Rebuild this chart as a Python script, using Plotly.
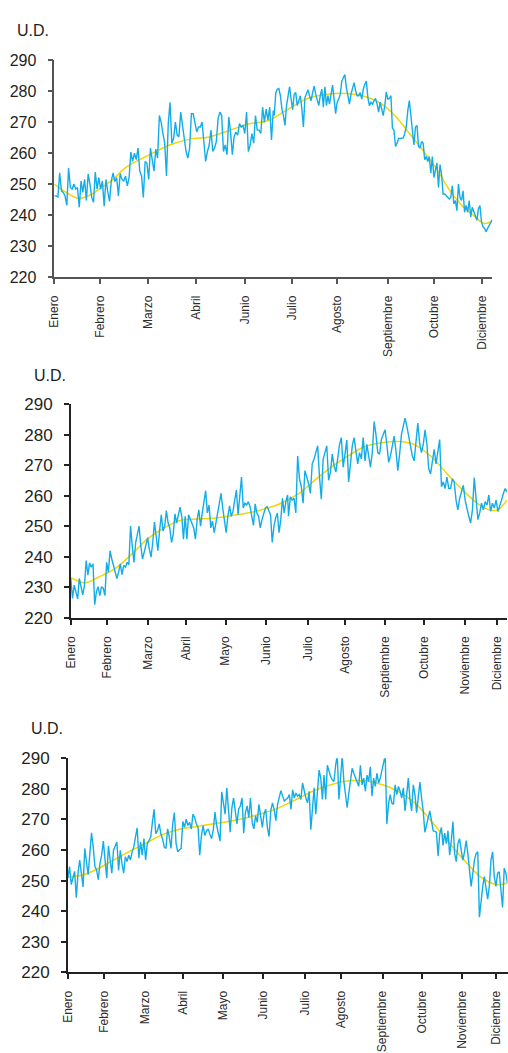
import numpy as np
import plotly.graph_objects as go

# ---------------------------------------------------------------- data
# Panel 1: daily index readings (first half / second half of the year)
p1_h1 = [246.2, 246.2, 245.9, 253.6, 247.8, 247.3, 246.2, 243.1, 255.2, 248.9,
         248.4, 250.0, 248.4, 248.9, 242.5, 251.0, 247.3, 251.5, 244.7, 253.3,
         250.0, 245.7, 244.1, 253.9, 248.4, 252.1, 248.4, 251.0, 242.9, 251.5,
         247.6, 244.4, 251.0, 253.6, 250.8, 252.1, 246.2, 253.4, 251.5, 251.0,
         252.6, 249.4, 252.1, 260.3, 257.3, 260.0, 257.9, 261.6, 254.2, 252.6,
         245.7, 257.3, 256.8, 251.5, 261.6, 257.3, 254.2, 261.3, 258.4, 272.1,
         270.0, 266.3, 263.2, 252.6, 269.5, 276.4, 263.2, 264.7, 270.0, 265.8,
         265.3, 273.2, 267.9, 264.7, 260.5, 258.4, 261.6, 272.7, 272.7, 270.0,
         266.8, 268.4, 268.4, 270.0, 262.1, 257.3, 260.5, 262.6, 267.4, 260.5,
         261.6, 263.7, 271.1, 273.2, 272.1, 260.5, 262.6, 259.5, 271.6, 266.8,
         259.5, 265.3, 266.8, 265.8, 269.5, 268.4, 268.9, 266.3, 273.2, 260.5,
         262.6, 266.3, 263.2, 272.1, 267.4, 267.4, 266.3, 274.8, 270.0, 274.2,
         270.6, 274.8, 264.2, 273.7]
p1_h2 = [272.1, 279.5, 280.6, 280.8, 278.5, 274.2, 272.1, 268.9, 275.3, 278.5,
         281.4, 277.4, 274.0, 279.0, 279.5, 275.3, 277.2, 278.5, 274.2, 268.4,
         277.9, 279.0, 280.4, 278.5, 276.9, 279.5, 281.6, 279.0, 277.4, 275.3,
         278.5, 280.6, 274.8, 281.4, 275.3, 278.5, 275.8, 278.5, 281.9, 277.4,
         272.7, 276.4, 277.4, 279.0, 283.2, 284.3, 285.3, 281.1, 278.5, 275.8,
         279.0, 281.1, 282.7, 280.1, 278.5, 278.5, 279.5, 277.4, 280.6, 282.2,
         283.2, 277.9, 275.3, 276.4, 275.8, 276.9, 277.6, 275.8, 273.2, 276.4,
         274.2, 272.1, 275.3, 279.7, 277.4, 277.6, 278.5, 267.9, 267.4, 262.1,
         263.2, 264.7, 264.7, 264.7, 264.9, 266.3, 268.4, 273.7, 276.9, 272.1,
         266.8, 262.6, 268.4, 268.9, 262.1, 261.6, 263.7, 263.2, 257.9, 258.9,
         257.3, 258.9, 253.6, 258.9, 252.1, 254.2, 256.8, 248.9, 256.3, 253.1,
         246.8, 246.8, 246.2, 245.7, 245.2, 245.7, 249.4, 243.6, 244.7, 241.4,
         250.0, 245.7, 244.7, 247.8, 240.9, 243.1, 240.9, 244.7, 239.4, 242.5,
         240.9, 239.9, 238.3, 242.0, 243.1, 237.8, 236.2, 235.7, 234.6, 235.7,
         236.7, 237.8, 238.5]
p1_trend_days = [0, 10, 20, 30, 39, 49, 59, 80, 96, 113, 129, 146, 162, 178, 195,
                 211, 228, 244, 261, 273, 285, 296, 307, 318, 329, 340, 351, 358, 365]
p1_trend = [250.0, 247.3, 245.4, 246.5, 248.8, 251.5, 255.2, 259.6, 262.6, 264.5,
            265.2, 267.3, 269.4, 270.4, 274.2, 277.6, 279.0, 279.2, 278.0, 275.8,
            271.6, 266.3, 261.0, 255.2, 248.3, 243.0, 239.4, 237.3, 238.0]
p1_months = ["Enero", "Febrero", "Marzo", "Abril", "Junio", "Julio", "Agosto",
             "Septiembre", "Octubre", "Diciembre"]
p1_month_days = [0, 37.8, 78.1, 118.4, 158.7, 198.1, 235.9, 277.9, 316.5, 356.8]

# Panel 2
p2_h1 = [232.9, 226.4, 230.7, 228.6, 226.2, 232.9, 229.7, 227.5, 230.7, 238.8,
         234.0, 238.0, 236.6, 237.7, 224.3, 228.6, 230.2, 227.3, 230.2, 229.7,
         227.3, 238.2, 235.0, 242.0, 239.3, 237.2, 235.0, 232.9, 235.0, 237.7,
         234.2, 237.2, 236.6, 238.2, 237.4, 250.1, 243.6, 238.2, 244.7, 247.9,
         250.1, 243.6, 239.3, 241.5, 243.6, 246.3, 242.5, 239.9, 244.7, 251.4,
         246.8, 242.0, 248.5, 253.8, 248.5, 250.1, 255.2, 251.1, 249.5, 244.7,
         247.4, 254.1, 251.1, 254.4, 256.3, 253.3, 245.8, 253.3, 245.8, 253.8,
         252.2, 250.6, 249.5, 245.8, 252.2, 255.4, 250.1, 254.4, 258.6, 261.7,
         254.4, 257.0, 249.5, 251.7, 247.9, 251.1, 253.8, 257.6, 260.8, 256.0,
         252.2, 247.9, 253.3, 256.7, 253.3, 254.9, 258.6, 261.9, 253.8, 260.8,
         266.2, 256.0, 257.6, 257.0, 258.1, 256.5, 253.3, 250.3, 257.4, 254.4,
         253.3, 249.5, 252.2, 254.6, 256.0, 256.5,
         254.9, 253.8, 244.7, 250.1, 252.7, 254.4, 247.9, 252.2, 259.2, 254.4,
         258.1, 260.3]
p2_h2 = [253.3, 259.7, 258.6, 259.2, 254.4, 273.1, 265.6, 263.0, 257.6, 268.3,
         266.2, 264.0, 260.8, 270.5, 272.1, 274.8, 276.4, 266.2, 258.9, 272.1,
         274.2, 276.4, 265.1, 267.8, 273.7, 269.9, 267.8, 273.1, 276.9, 279.1,
         269.4, 273.7, 278.3, 264.6, 269.9, 276.4, 279.1, 274.2, 270.5, 274.2,
         272.1, 279.1, 271.5, 276.9, 273.1, 269.4, 274.2, 284.4, 280.1, 274.2,
         273.7, 278.5, 280.1, 281.7, 276.9, 271.0, 273.1, 275.8, 279.6, 274.8,
         268.3, 273.7, 280.1, 282.8, 285.5, 282.8, 279.1, 275.3, 273.1, 271.5,
         279.1, 283.9, 277.4, 274.2, 276.9, 281.7, 276.9, 268.9, 267.2, 271.5,
         275.3, 270.5, 274.2, 278.5, 263.0, 264.6, 262.4, 266.2, 262.4, 262.4,
         265.6, 264.6, 258.6, 255.4, 259.2, 261.9, 263.5, 258.6, 255.4, 253.3,
         251.1, 255.4, 266.0, 258.6, 252.2, 254.4, 257.6, 255.4, 258.1, 257.0,
         260.3, 254.9, 257.6, 256.0, 258.6, 254.9, 256.5, 258.6, 260.8, 262.4,
         261.3]
p2_trend_days = [0, 12, 23, 37, 51, 64, 78, 92, 106, 120, 134, 147, 161, 175, 191,
                 204, 218, 232, 246, 260, 274, 287, 301, 315, 328, 342, 353, 358, 365]
p2_trend = [233.2, 231.5, 233.3, 236.1, 240.9, 245.8, 249.5, 252.0, 252.4, 252.7,
            253.5, 254.3, 255.6, 257.4, 260.8, 265.1, 269.4, 273.1, 276.2, 277.4,
            277.8, 276.9, 273.1, 267.2, 261.9, 257.0, 255.2, 255.6, 258.6]
months_full = ["Enero", "Febrero", "Marzo", "Abril", "Mayo", "Junio", "Julio",
               "Agosto", "Septiembre", "Octubre", "Noviembre", "Diciembre"]
p2_month_days = [0, 30.5, 64.5, 96.6, 129.5, 163.3, 198.7, 229.2, 262.9, 295.9,
                 329.6, 356.8]

# Panel 3
p3_h1 = [250.8, 254.6, 248.7, 250.8, 253.0, 244.4, 252.4, 256.7, 252.4, 247.9,
         260.5, 255.6, 251.9, 258.8, 265.6, 261.0, 254.6, 253.5, 250.3, 255.6,
         258.3, 262.9, 256.7, 250.8, 261.3, 256.7, 252.4, 259.9, 261.5, 262.6,
         253.3, 259.9, 255.6, 252.4, 257.8, 256.2, 258.3, 256.7, 259.4, 261.0,
         264.2, 267.2, 257.3, 262.6, 258.3, 263.7, 256.7, 262.1, 263.1, 264.2,
         269.0, 273.3, 265.3, 266.3, 268.5, 265.3, 263.7, 261.0, 260.5, 266.9,
         264.2, 260.5, 268.5, 272.2, 262.1, 259.4, 260.1, 260.5, 269.3, 267.4,
         270.1, 268.0, 269.0, 266.9, 271.7, 270.6, 268.5, 267.4, 258.3, 264.7,
         268.0, 264.7, 266.3, 266.9, 265.1, 263.7, 266.6, 272.4, 268.0, 265.3,
         262.9, 279.0, 276.0, 271.7, 280.3, 272.8, 265.8, 273.8, 277.0, 272.8,
         268.5, 273.3, 274.4, 277.0, 265.5, 272.2, 274.4, 270.6, 277.0, 269.0,
         266.9, 271.2, 269.0, 274.9, 271.7, 267.4, 271.7, 273.3, 267.4, 264.4,
         272.8, 275.4, 273.3, 269.6, 274.9, 277.0, 279.4, 277.6, 276.0, 276.5]
p3_h2 = [277.0, 278.1, 273.3, 279.7, 277.0, 278.6, 277.6, 278.1, 276.5, 281.9,
         279.2, 277.0, 275.4, 279.2, 266.6, 274.4, 280.3, 271.7, 278.1, 286.1,
         283.5, 276.5, 284.5, 276.5, 287.7, 285.6, 284.0, 282.9, 282.4, 287.7,
         290.9, 276.5, 284.5, 290.9, 282.4, 278.1, 273.8, 278.6, 282.9, 286.7,
         285.1, 283.5, 281.9, 280.8, 287.7, 281.3, 283.5, 279.2, 284.5, 282.4,
         287.2, 277.6, 283.5, 280.8, 285.1, 281.9, 283.5, 285.6, 288.3, 290.9,
         268.5, 274.9, 278.1, 275.4, 274.9, 281.3, 278.1, 280.8, 279.2, 277.0,
         280.3, 272.8, 278.1, 283.5, 276.5, 272.8, 281.3, 278.1, 272.2, 278.1,
         282.2, 277.0, 272.8, 265.8, 268.5, 270.6, 272.8, 269.6, 266.3, 266.1,
         265.8, 258.0, 265.3, 267.4, 261.5, 265.5, 262.1, 266.3, 258.3, 263.1,
         269.3, 258.8, 256.2, 262.1, 263.7, 259.9, 256.7, 259.4, 263.1, 258.8,
         254.0, 248.1, 252.4, 256.7, 258.8, 259.4, 238.0, 243.9, 248.1, 251.3,
         248.1, 243.9, 248.1, 256.7, 259.4, 251.3, 248.1, 252.4, 252.9, 248.1,
         241.2, 254.0, 252.4, 249.2]
p3_trend_days = [0, 13, 24, 38, 52, 65, 79, 92, 106, 120, 133, 147, 161, 174, 192,
                 206, 220, 233, 247, 260, 274, 288, 301, 315, 329, 342, 356, 365]
p3_trend = [251.1, 251.9, 253.7, 256.7, 259.7, 262.3, 265.1, 266.7, 267.6, 268.5,
            269.3, 270.4, 271.9, 273.6, 277.0, 279.7, 281.5, 282.6, 282.6, 281.5,
            279.2, 275.4, 269.8, 263.1, 256.7, 251.4, 248.7, 249.2]
p3_month_days = [0, 30, 64.1, 96, 128.7, 162.3, 197.2, 226.9, 261.3, 294, 327.6,
                 355.4]

y_ticks = [220, 230, 240, 250, 260, 270, 280, 290]

# ---------------------------------------------------------------- layout
W, H = 508, 1053
BLUE = "#12ade8"
YELLOW = "#f8d300"
FONT = "Liberation Sans, Arial, sans-serif"

panels = [
    dict(h1=p1_h1, h2=p1_h2, split=(182.5, 183.3), tdays=p1_trend_days, trend=p1_trend,
         ticks=p1_month_days, labels=p1_months,
         box=(48, 492, 52, 273), axis_color="#555555", ud=(8, 22), fs=16),
    dict(h1=p2_h1, h2=p2_h2, split=(181.4, 182.2), tdays=p2_trend_days, trend=p2_trend,
         ticks=p2_month_days, labels=months_full,
         box=(64.7, 507, 402.7, 620), axis_color="#222222", ud=(25, 373), fs=17),
    dict(h1=p3_h1, h2=p3_h2, split=(181.1, 182.5), tdays=p3_trend_days, trend=p3_trend,
         ticks=p3_month_days, labels=months_full,
         box=(61.7, 507.5, 763, 981), axis_color="#222222", ud=(22, 733), fs=17),
]

fig = go.Figure()
layout = dict(width=W, height=H, margin=dict(l=0, r=0, t=0, b=0),
              paper_bgcolor="white", plot_bgcolor="white", showlegend=False,
              font=dict(family=FONT, color="#231f20"))
annotations = []

for i, p in enumerate(panels, start=1):
    sfx = "" if i == 1 else str(i)
    days = np.concatenate([np.linspace(0, p["split"][0], len(p["h1"])),
                           np.linspace(p["split"][1], 365, len(p["h2"]))])
    values = p["h1"] + p["h2"]
    fig.add_trace(go.Scatter(x=p["tdays"], y=p["trend"], mode="lines",
                             line=dict(color=YELLOW, width=1.5, shape="spline", smoothing=1.0),
                             xaxis="x" + sfx, yaxis="y" + sfx, hoverinfo="skip"))
    fig.add_trace(go.Scatter(x=days, y=values, mode="lines",
                             line=dict(color=BLUE, width=1.4),
                             xaxis="x" + sfx, yaxis="y" + sfx, hoverinfo="skip"))
    x0, x1, yt, yb = p["box"]
    layout["xaxis" + sfx] = dict(
        domain=[x0 / W, x1 / W], range=[0, 365], anchor="y" + sfx,
        showgrid=False, zeroline=False, showline=True, linecolor=p["axis_color"],
        linewidth=1.5, ticks="outside", ticklen=5, tickwidth=1.5,
        tickcolor=p["axis_color"], tickmode="array", tickvals=p["ticks"],
        ticktext=p["labels"], tickangle=-90, ticklabelstandoff=7,
        tickfont=dict(family=FONT, size=12, color="#2b2b2b"))
    layout["yaxis" + sfx] = dict(
        domain=[1 - yb / H, 1 - yt / H], range=[220, 290], anchor="x" + sfx,
        showgrid=False, zeroline=False, showline=True, linecolor=p["axis_color"],
        linewidth=1.5, ticks="outside", ticklen=5, tickwidth=1.5,
        tickcolor=p["axis_color"], tickmode="array", tickvals=y_ticks,
        ticklabelstandoff=8,
        tickfont=dict(family=FONT, size=p["fs"], color="#231f20"))
    annotations.append(dict(text="U.D.", x=p["ud"][0] / W, y=1 - p["ud"][1] / H,
                            xref="paper", yref="paper", xanchor="left", yanchor="middle",
                            showarrow=False,
                            font=dict(family=FONT, size=16, color="#231f20")))

layout["annotations"] = annotations
fig.update_layout(**layout)
fig.write_html("out.html")
